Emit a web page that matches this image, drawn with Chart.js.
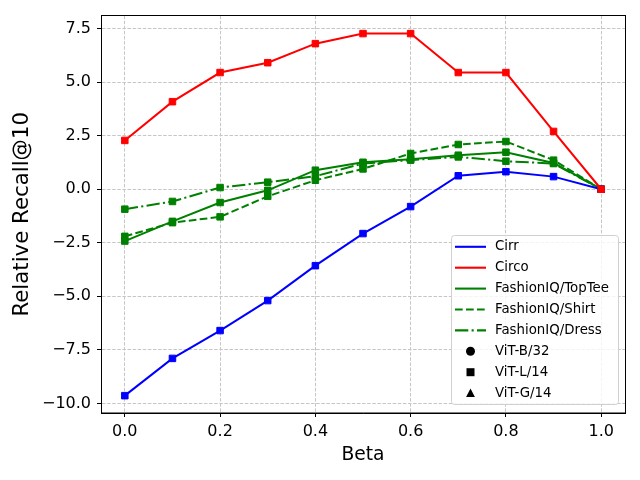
<!doctype html>
<html>
  <head>
    <script src="https://cdn.jsdelivr.net/npm/chart.js@4"></script>
    <style>
      html, body { margin: 0; padding: 0; background: #fff; }
    </style>
  </head>

  <body>
    <div>
      <canvas id="canvas" width="640" height="480"></canvas>
    </div>
    <script>
      const betas = [0.0, 0.1, 0.2, 0.3, 0.4, 0.5, 0.6, 0.7, 0.8, 0.9, 1.0];
      const cirr = [-9.64, -7.90, -6.60, -5.20, -3.57, -2.07, -0.81, 0.63, 0.82, 0.59, 0.00];
      const circo = [2.28, 4.09, 5.45, 5.91, 6.80, 7.27, 7.27, 5.45, 5.45, 2.70, 0.00];
      const topTee = [-2.42, -1.50, -0.62, -0.05, 0.89, 1.26, 1.40, 1.59, 1.73, 1.23, 0.00];
      const shirt = [-2.20, -1.56, -1.29, -0.33, 0.42, 0.95, 1.67, 2.09, 2.23, 1.36, 0.00];
      const dress = [-0.93, -0.57, 0.08, 0.33, 0.61, 1.20, 1.36, 1.51, 1.31, 1.20, 0.00];

      const seriesNames = ['Cirr', 'Circo', 'FashionIQ/TopTee', 'FashionIQ/Shirt', 'FashionIQ/Dress'];
      const modelNames = ['ViT-B/32', 'ViT-L/14', 'ViT-G/14'];
      const modelMarkers = ['circle', 'rect', 'triangle'];
      const xTicks = [0.0, 0.2, 0.4, 0.6, 0.8, 1.0];
      const yTicks = [-10.0, -7.5, -5.0, -2.5, 0.0, 2.5, 5.0, 7.5];

      const FONT = 'DejaVu Sans';
      Chart.defaults.font.family = FONT;
      Chart.defaults.color = '#000';

      const pts = (ys) => betas.map((b, i) => ({ x: b, y: ys[i] }));
      const fmt = (v) => v.toFixed(1).replace('-', '\u2212');

      function series(label, ys, color, dash, order) {
        return {
          label: label,
          data: pts(ys),
          borderColor: color,
          backgroundColor: color,
          borderWidth: 2,
          borderDash: dash,
          pointStyle: 'rect',
          pointRadius: 4.6,
          pointBorderWidth: 1,
          pointBackgroundColor: color,
          pointBorderColor: color,
          tension: 0,
          order: order,
        };
      }

      // frame on all four sides + matplotlib-like legend box inside the axes
      const boxLegend = {
        id: 'boxLegend',
        afterDraw(chart) {
          const ctx = chart.ctx;
          const a = chart.chartArea;
          ctx.save();
          ctx.strokeStyle = '#000';
          ctx.lineWidth = 1;
          ctx.strokeRect(Math.round(a.left) + 0.5, Math.round(a.top) - 0.5,
            Math.round(a.right - a.left), Math.round(a.bottom - a.top) + 0.5);

          const w = 167, h = 169;
          const x0 = a.right - 7 - w, y0 = a.bottom - 9 - h;
          ctx.beginPath();
          ctx.roundRect(x0 + 0.5, y0 + 0.5, w, h, 3);
          ctx.fillStyle = 'rgba(255,255,255,0.8)';
          ctx.fill();
          ctx.strokeStyle = '#d0d0d0';
          ctx.stroke();

          const rowH = 20.9;
          ctx.font = '13.33px "' + FONT + '"';
          ctx.textBaseline = 'middle';
          ctx.textAlign = 'left';
          let y = y0 + 11.8;
          seriesNames.forEach((name) => {
            const ds = chart.data.datasets.find((d) => d.label === name);
            ctx.beginPath();
            ctx.setLineDash(ds.borderDash || []);
            ctx.strokeStyle = ds.borderColor;
            ctx.lineWidth = 2.1;
            ctx.moveTo(x0 + 4, y);
            ctx.lineTo(x0 + 35, y);
            ctx.stroke();
            ctx.setLineDash([]);
            ctx.fillStyle = '#000';
            ctx.fillText(name, x0 + 44, y);
            y += rowH;
          });
          modelNames.forEach((name, i) => {
            const cx = x0 + 19.5;
            ctx.fillStyle = '#000';
            ctx.beginPath();
            if (modelMarkers[i] === 'circle') {
              ctx.arc(cx, y, 4.5, 0, Math.PI * 2);
            } else if (modelMarkers[i] === 'rect') {
              ctx.rect(cx - 4, y - 4, 8, 8);
            } else {
              ctx.moveTo(cx, y - 4.6);
              ctx.lineTo(cx + 4.4, y + 4);
              ctx.lineTo(cx - 4.4, y + 4);
              ctx.closePath();
            }
            ctx.fill();
            ctx.fillText(name, x0 + 44, y);
            y += rowH;
          });
          ctx.restore();
        },
      };

      const gridColor = '#c6c6c6';

      new Chart(document.getElementById('canvas').getContext('2d'), {
        type: 'line',
        data: {
          datasets: [
            series('Cirr', cirr, '#0000ff', [], 1),
            series('Circo', circo, '#ff0000', [], 0),
            series('FashionIQ/TopTee', topTee, '#008000', [], 2),
            series('FashionIQ/Shirt', shirt, '#008000', [7.7, 3.3], 2),
            series('FashionIQ/Dress', dress, '#008000', [13.3, 3.3, 2.1, 3.3], 2),
          ],
        },
        options: {
          responsive: false,
          animation: false,
          devicePixelRatio: 1,
          layout: { padding: { left: 0, top: 15, right: 15, bottom: 0 } },
          plugins: {
            legend: { display: false },
            tooltip: { enabled: false },
          },
          scales: {
            x: {
              type: 'linear',
              min: -0.05,
              max: 1.05,
              afterBuildTicks: (s) => { s.ticks = xTicks.map((v) => ({ value: v })); },
              afterFit: (s) => { s.height = 67; },
              ticks: {
                autoSkip: false,
                maxRotation: 0,
                padding: 5,
                font: { size: 16 },
                callback: (v) => fmt(v),
              },
              grid: {
                color: gridColor,
                lineWidth: 1,
                tickLength: 4,
                tickColor: '#000',
                tickBorderDash: [],
              },
              border: { color: '#000', width: 1, dash: [3.5, 1.6] },
              title: {
                display: true,
                text: 'Beta',
                font: { size: 18.7 },
                padding: { top: 0, bottom: 13.6 },
              },
            },
            y: {
              type: 'linear',
              min: -10.45,
              max: 8.11,
              afterBuildTicks: (s) => { s.ticks = yTicks.map((v) => ({ value: v })); },
              afterFit: (s) => { s.width = 101; },
              ticks: {
                autoSkip: false,
                padding: 6,
                font: { size: 16 },
                callback: (v) => fmt(v),
              },
              grid: {
                color: gridColor,
                lineWidth: 1,
                tickLength: 4,
                tickColor: '#000',
                tickBorderDash: [],
              },
              border: { color: '#000', width: 1, dash: [3.5, 1.6] },
              title: {
                display: true,
                text: 'Relative Recall@10',
                font: { size: 21.3 },
                padding: { top: 9.3, bottom: 0 },
              },
            },
          },
        },
        plugins: [boxLegend],
      });
    </script>
  </body>
</html>
